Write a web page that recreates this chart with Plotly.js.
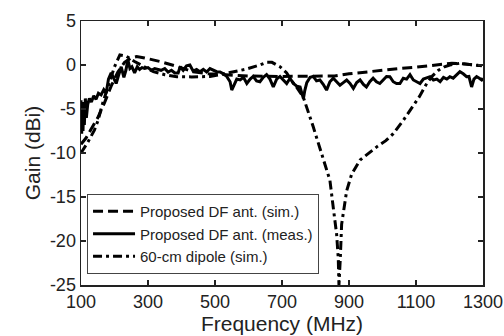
<!DOCTYPE html>
<html>
<head>
<meta charset="utf-8">
<script src="https://cdn.plot.ly/plotly-3.0.1.min.js"></script>
<style>html,body{margin:0;padding:0;background:#fff;}#chart{width:504px;height:336px;}</style>
</head>
<body>
<div id="chart"></div>
<script>
// Proposed DF antenna, simulated
const simFreq = [100, 115, 130, 150, 170, 190, 210, 230, 250, 266, 290, 336, 390, 434, 480, 535, 600, 700, 800, 857, 900, 957, 1000, 1057, 1100, 1157, 1207, 1250, 1297];
const simGain = [-9.0, -8.3, -7.3, -6.0, -4.3, -2.4, -0.8, 0.3, 0.8, 0.95, 0.8, 0.4, -0.2, -0.76, -1.0, -1.14, -1.25, -1.3, -1.3, -1.25, -1.0, -0.76, -0.6, -0.38, -0.25, -0.04, 0.2, 0.1, -0.1];

// Proposed DF antenna, measured
const measFreq = [100, 102, 104, 106, 108, 110, 113, 116, 120, 125, 131, 138, 145, 152, 160, 168, 175, 182, 190, 197, 205, 212, 220, 228, 234, 240, 246, 252, 260, 268, 275, 282, 290, 300, 310, 320, 330, 339, 350, 360, 370, 380, 390, 396, 405, 415, 425, 435, 445, 455, 465, 475, 485, 495, 505, 515, 525, 535, 545, 550, 558, 565, 575, 585, 595, 605, 614, 624, 634, 644, 654, 664, 674, 684, 694, 704, 714, 724, 734, 744, 754, 760, 764, 768, 774, 784, 793, 803, 813, 823, 833, 843, 853, 863, 873, 883, 893, 903, 913, 923, 933, 943, 952, 962, 972, 982, 992, 1002, 1012, 1022, 1032, 1042, 1052, 1062, 1072, 1082, 1092, 1102, 1112, 1122, 1132, 1142, 1152, 1162, 1172, 1182, 1192, 1201, 1211, 1221, 1231, 1241, 1251, 1258, 1266, 1273, 1281, 1289, 1296, 1300];
const measGain = [-4.0, -7.8, -5.0, -7.5, -4.2, -6.8, -3.8, -6.0, -4.5, -3.8, -4.2, -3.5, -3.9, -3.2, -3.4, -2.8, -3.2, -1.6, -0.9, -1.5, -2.1, -1.2, -0.2, -1.4, -0.6, 0.6, -0.4, -0.2, -0.9, -0.2, -0.5, -0.3, -0.4, -0.3, -0.6, -0.4, -0.5, -0.6, -0.4, -0.8, -0.6, -0.9, -0.9, -0.2, -0.6, -0.1, 0.0, -0.7, -0.5, -0.76, -0.5, -0.8, -0.4, -0.6, -0.76, -0.8, -1.0, -1.3, -1.9, -2.85, -2.2, -1.6, -1.7, -1.4, -2.1, -1.6, -1.3, -1.8, -1.9, -1.4, -1.1, -1.6, -2.5, -1.6, -1.3, -1.7, -2.1, -1.5, -2.1, -2.4, -2.5, -3.3, -3.8, -2.9, -2.0, -1.4, -1.3, -1.8, -1.7, -2.2, -2.85, -1.9, -1.5, -1.9, -2.3, -2.0, -1.7, -2.1, -2.66, -2.0, -1.7, -2.2, -2.5, -1.9, -1.5, -1.9, -2.1, -1.7, -1.3, -1.33, -1.9, -2.1, -2.1, -1.5, -1.6, -1.1, -1.7, -1.9, -2.1, -1.6, -1.5, -1.33, -1.7, -1.6, -1.9, -1.4, -1.6, -1.33, -1.5, -1.1, -0.76, -1.0, -1.33, -1.3, -2.5, -1.6, -1.33, -1.5, -1.7, -1.5];

// 60-cm dipole, simulated
const dipFreq = [100, 120, 140, 151, 165, 181, 200, 216, 235, 260, 290, 316, 350, 386, 430, 485, 520, 554, 595, 634, 654, 670, 694, 714, 727, 745, 763, 793, 823, 843, 853, 863, 868, 870, 874, 878, 893, 908, 933, 958, 983, 1010, 1032, 1062, 1087, 1110, 1132, 1150, 1167, 1185, 1201, 1231, 1260, 1300];
const dipGain = [-10.0, -8.8, -7.4, -6.3, -4.3, -2.5, -0.2, 1.14, 1.0, 0.4, -0.2, -0.76, -1.1, -1.33, -1.35, -1.3, -1.05, -0.76, -0.45, 0.0, 0.3, 0.3, -0.2, -0.9, -1.7, -2.6, -3.6, -7.0, -10.5, -13.1, -16.2, -19.2, -22.0, -25.0, -22.0, -18.1, -14.3, -12.4, -10.8, -10.0, -9.3, -8.6, -7.8, -6.3, -4.9, -3.6, -2.1, -1.2, -0.6, -0.2, 0.0, 0.2, 0.05, -0.1];

const tickVals = [100, 300, 500, 700, 900, 1100, 1300];
const yTickVals = [5, 0, -5, -10, -15, -20, -25];

const lw = 3;
const FONT = 'Liberation Sans, Arial, sans-serif';
const traces = [
  {x: simFreq, y: simGain, name: 'Proposed DF ant. (sim.)', mode: 'lines',
   line: {color: '#000', width: lw, dash: '10px,5px'}},
  {x: measFreq, y: measGain, name: 'Proposed DF ant. (meas.)', mode: 'lines',
   line: {color: '#000', width: lw}},
  {x: dipFreq, y: dipGain, name: '60-cm dipole (sim.)', mode: 'lines',
   line: {color: '#000', width: lw, dash: '9px,4px,3px,4px'}}
];

const axisCommon = {
  showgrid: false, zeroline: false, showline: true, linecolor: '#222', linewidth: 1.5,
  mirror: 'ticks', ticks: 'inside', ticklen: 5, tickwidth: 1.5, tickcolor: '#222',
  tickfont: {family: FONT, size: 18, color: '#222'}
};

const layout = {
  width: 504, height: 336,
  margin: {l: 81, r: 21, t: 21, b: 51},
  paper_bgcolor: '#fff', plot_bgcolor: '#fff',
  showlegend: true,
  legend: {x: 0.015, y: 0.042, xanchor: 'left', yanchor: 'bottom',
    bgcolor: '#fff', bordercolor: '#444', borderwidth: 1,
    font: {family: FONT, size: 15, color: '#222'},
    tracegroupgap: 0, itemwidth: 42},
  xaxis: Object.assign({}, axisCommon, {
    range: [100, 1300], tickvals: tickVals, ticktext: tickVals.map(String),
    title: {text: 'Frequency (MHz)', standoff: 2,
      font: {family: FONT, size: 21, color: '#222'}}
  }),
  yaxis: Object.assign({}, axisCommon, {
    range: [-25, 5], tickvals: yTickVals, ticktext: yTickVals.map(String),
    title: {text: 'Gain (dBi)', standoff: 3,
      font: {family: FONT, size: 21, color: '#222'}}
  })
};

Plotly.newPlot('chart', traces, layout, {staticPlot: true, displayModeBar: false});
</script>
</body>
</html>
